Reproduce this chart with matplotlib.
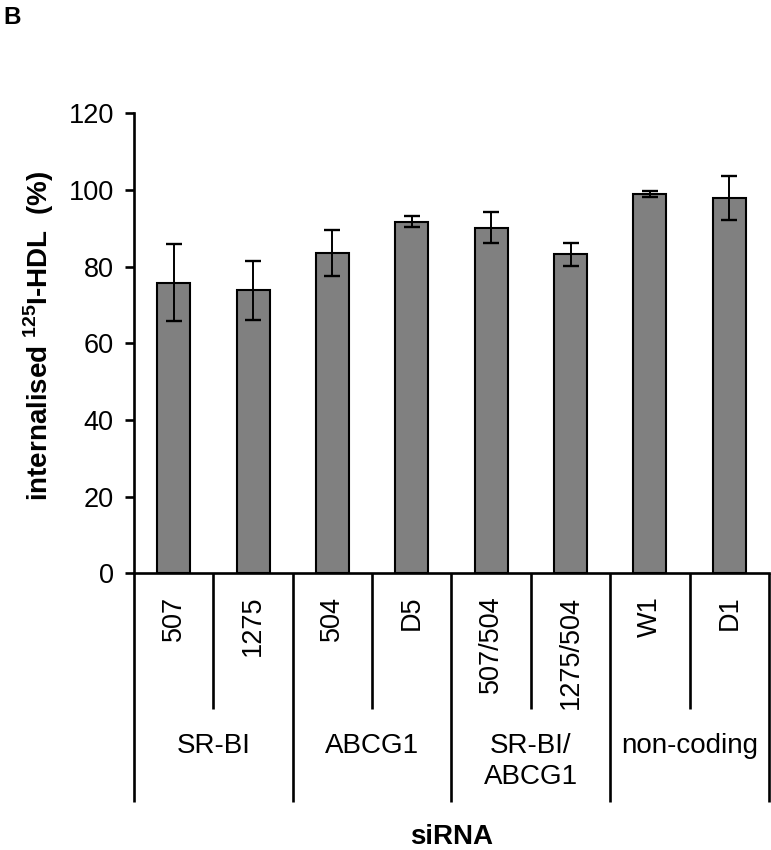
import numpy as np
import matplotlib.pyplot as plt

plt.rcParams['font.family'] = ['Liberation Sans', 'DejaVu Sans']
plt.rcParams['mathtext.fontset'] = 'custom'
plt.rcParams['mathtext.bf'] = 'Liberation Sans:bold'
plt.rcParams['mathtext.rm'] = 'Liberation Sans:bold'

# data
sirna = ['507', '1275', '504', 'D5', '507/504', '1275/504', 'W1', 'D1']
values = [75.8, 73.9, 83.6, 91.7, 90.2, 83.3, 99.0, 98.0]
errors = [10.0, 7.7, 5.9, 1.4, 4.0, 3.0, 0.8, 5.7]
groups = ['SR-BI', 'ABCG1', 'SR-BI/\nABCG1', 'non-coding']

fig = plt.figure(figsize=(7.71, 8.5), dpi=100)
ax = fig.add_axes([0.1738, 0.3253, 0.8236, 0.5414])

x = np.arange(len(sirna))
ax.bar(x, values, width=0.415, color='#808080', edgecolor='black', linewidth=1.5,
       zorder=2)
ax.errorbar(x, values, yerr=errors, fmt='none', ecolor='black', elinewidth=1.4,
            capsize=5.6, capthick=1.7, zorder=3)

ax.set_xlim(-0.5, len(sirna) - 0.5)
ax.set_ylim(0, 120)
ax.set_yticks(range(0, 121, 20))
ax.tick_params(axis='y', direction='out', length=6.5, width=1.9, labelsize=19.5, pad=8)
ax.set_xticks(x)
ax.set_xticklabels(sirna, rotation=90, fontsize=19.5)
ax.tick_params(axis='x', length=0, pad=16)

for s in ['top', 'right']:
    ax.spines[s].set_visible(False)
ax.spines['left'].set_linewidth(1.9)
ax.spines['bottom'].set_linewidth(1.9)

# separator lines below the axis
for b in np.arange(-0.5, len(sirna), 1.0):
    idx = int(b + 0.5)
    yend = -59.6 if idx % 2 == 0 else -35.3
    ax.plot([b, b], [0, yend], color='black', lw=1.9, clip_on=False,
            solid_capstyle='butt')

# group labels
for i, g in enumerate(groups):
    ax.text(2 * i + 0.5, -41.5, g, ha='center', va='top', fontsize=20,
            linespacing=1.25, clip_on=False)

ax.text(3.5, -68.7, 'siRNA', ha='center', va='center', fontsize=20,
        fontweight='bold', clip_on=False)

fig.text(39 / 771, 1 - 335.5 / 850, r'internalised $^{\mathbf{125}}$I-HDL  (%)',
         rotation=90, ha='center', va='center', fontsize=20, fontweight='bold')

fig.text(3 / 771, 1 - 6 / 850, 'B', ha='left', va='top', fontsize=17.5,
         fontweight='bold')

fig.savefig('out.png', dpi=100)
